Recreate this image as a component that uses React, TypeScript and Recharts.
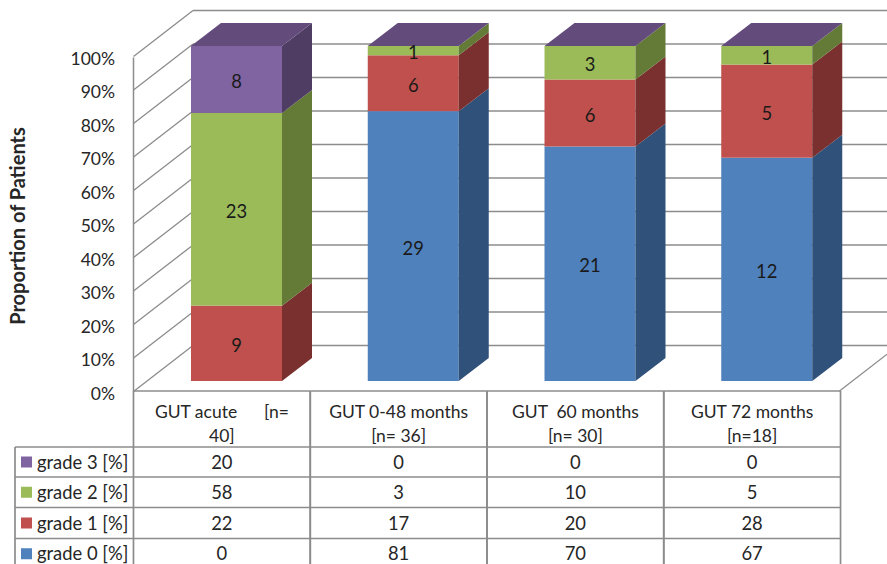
import React from 'react';
import { BarChart, Bar, XAxis, YAxis, CartesianGrid, LabelList } from 'recharts';

const categories = ['GUT acute      [n=\n40]', 'GUT 0-48 months\n[n= 36]', 'GUT  60 months\n[n= 30]', 'GUT 72 months\n[n=18]'];

// patient counts, stacked to 100%
const grade0 = [0, 29, 21, 12];
const grade1 = [9, 6, 6, 5];
const grade2 = [23, 1, 3, 1];
const grade3 = [8, 0, 0, 0];

// percentages listed under the columns
const grade0Pct = [0, 81, 70, 67];
const grade1Pct = [22, 17, 20, 28];
const grade2Pct = [58, 3, 10, 5];
const grade3Pct = [20, 0, 0, 0];

const yTicks = [0, 0.1, 0.2, 0.3, 0.4, 0.5, 0.6, 0.7, 0.8, 0.9, 1];

const data = categories.map((name, i) => ({
  name,
  grade0: grade0[i],
  grade1: grade1[i],
  grade2: grade2[i],
  grade3: grade3[i],
}));

const series = [
  { key: 'grade0', label: 'grade 0 [%]', front: '#4F81BD', side: '#30517A', top: '#3E6797' },
  { key: 'grade1', label: 'grade 1 [%]', front: '#C0504D', side: '#7A302E', top: '#99403D' },
  { key: 'grade2', label: 'grade 2 [%]', front: '#9BBB59', side: '#647A37', top: '#7C9647' },
  { key: 'grade3', label: 'grade 3 [%]', front: '#8064A2', side: '#4F3D63', top: '#634C7C' },
];

const tableRows = [
  { color: '#8064A2', label: 'grade 3 [%]', values: grade3Pct },
  { color: '#9BBB59', label: 'grade 2 [%]', values: grade2Pct },
  { color: '#C0504D', label: 'grade 1 [%]', values: grade1Pct },
  { color: '#4F81BD', label: 'grade 0 [%]', values: grade0Pct },
];

const FONT = 'Lato';
const FONT_SIZE = 18.4;
const SMALL_FONT_SIZE = 17.5;
const TEXT = '#262626';
const LINE = '#8c8c8c';

// the bars stand in the middle of the floor, the walls and table sit in front of them
const WALL_DX = -14.5;
const WALL_DY = 10.5;
const BACK_DX = 59.5;
const BACK_DY = -46;
const BAR_DX = 30;
const BAR_DY = -23;
const BAND = 176.8;

const ROW_Y = [447, 477, 507.5, 538.5, 570];

const Box3D = (fillSet: { front: string; side: string; top: string }, withTop: boolean) => (props: any) => {
  const { x, y, width: w, height: h } = props;
  return (
    <g>
      {h > 0 && <rect x={x} y={y} width={w} height={h} fill={fillSet.front} />}
      {h > 0 && (
        <polygon
          points={`${x + w},${y} ${x + w + BAR_DX},${y + BAR_DY} ${x + w + BAR_DX},${y + h + BAR_DY} ${x + w},${y + h}`}
          fill={fillSet.side}
        />
      )}
      {withTop && (
        <polygon
          points={`${x},${y} ${x + BAR_DX},${y + BAR_DY} ${x + w + BAR_DX},${y + BAR_DY} ${x + w},${y}`}
          fill={fillSet.top}
        />
      )}
    </g>
  );
};

// each gridline runs along the left wall and then across the back wall
const WallLine = (props: any) => {
  const { x1, y1, index } = props;
  const fx = x1 + WALL_DX;
  const fy = y1 + WALL_DY;
  return (
    <g key={index} stroke={LINE} fill="none">
      <line x1={fx} y1={fy} x2={fx + BACK_DX} y2={fy + BACK_DY} strokeWidth={1.3} />
      <line x1={fx + BACK_DX} y1={fy + BACK_DY} x2={920} y2={fy + BACK_DY} strokeWidth={1.5} />
    </g>
  );
};

const PercentTick = (props: any) => {
  const { y, payload } = props;
  return (
    <text x={115} y={y + WALL_DY + 8} textAnchor="end" fontFamily={FONT} fontSize={SMALL_FONT_SIZE} fill={TEXT}>
      {Math.round(payload.value * 100)}%
    </text>
  );
};

// one table column: category header, cell borders and the percentages
const ColumnTick = (props: any) => {
  const { x, payload, index } = props;
  const cx = x + WALL_DX;
  const left = cx - BAND / 2;
  const right = cx + BAND / 2;
  const lines = String(payload.value).split('\n');
  return (
    <g>
      {lines.map((t, i) => (
        <text
          key={i}
          x={cx}
          y={418 + i * 24}
          textAnchor="middle"
          fontFamily={FONT}
          fontSize={SMALL_FONT_SIZE}
          fill={TEXT}
          style={{ whiteSpace: 'pre' }}
        >
          {t}
        </text>
      ))}
      <line x1={left} y1={391} x2={left} y2={564} stroke={LINE} strokeWidth={1.7} />
      <line x1={right} y1={391} x2={right} y2={564} stroke={LINE} strokeWidth={1.7} />
      <line x1={left} y1={391} x2={right} y2={391} stroke={LINE} strokeWidth={1.7} />
      {tableRows.map((row, r) => (
        <g key={row.label}>
          <line x1={left} y1={ROW_Y[r]} x2={right} y2={ROW_Y[r]} stroke={LINE} strokeWidth={1.7} />
          <text
            x={cx}
            y={(ROW_Y[r] + Math.min(ROW_Y[r + 1], 569)) / 2 + 6.5}
            textAnchor="middle"
            fontFamily={FONT}
            fontSize={FONT_SIZE}
            fill={TEXT}
          >
            {row.values[index]}
          </text>
        </g>
      ))}
    </g>
  );
};

// series names with their colour keys, left of the table, plus the axis title and floor edge
const ChartFrame = () => (
  <g>
    <line x1={133.5} y1={57.5} x2={133.5} y2={391} stroke={LINE} strokeWidth={1.5} />
    <line x1={839.5} y1={391} x2={899} y2={345} stroke={LINE} strokeWidth={1.3} />
    <text
      transform="translate(25,226) rotate(-90)"
      textAnchor="middle"
      fontFamily={FONT}
      fontSize={20}
      fontWeight={700}
      fill={TEXT}
    >
      Proportion of Patients
    </text>
    <line x1={15} y1={447} x2={15} y2={564} stroke={LINE} strokeWidth={1.7} />
    {tableRows.map((row, r) => (
      <g key={row.label}>
        <line x1={15} y1={ROW_Y[r]} x2={133.5} y2={ROW_Y[r]} stroke={LINE} strokeWidth={1.7} />
        <rect x={21} y={(ROW_Y[r] + Math.min(ROW_Y[r + 1], 569)) / 2 - 5.5} width={11} height={11} fill={row.color} />
        <text
          x={37}
          y={(ROW_Y[r] + Math.min(ROW_Y[r + 1], 569)) / 2 + 6.5}
          fontFamily={FONT}
          fontSize={FONT_SIZE}
          fill={TEXT}
        >
          {row.label}
        </text>
      </g>
    ))}
  </g>
);

export default function App() {
  return (
    <div style={{ position: 'absolute', left: 0, top: 0, width: 887, height: 564, overflow: 'hidden', background: '#fff' }}>
      <BarChart
        width={887}
        height={564}
        data={data}
        stackOffset="expand"
        margin={{ top: 46, right: 32, bottom: 153, left: 118 }}
      >
        <CartesianGrid vertical={false} horizontal={(p: any) => <WallLine {...p} />} />
        <XAxis dataKey="name" height={30} axisLine={false} tickLine={false} interval={0} tick={(p: any) => <ColumnTick {...p} />} />
        <YAxis
          width={30}
          domain={[0, 1]}
          ticks={yTicks}
          axisLine={false}
          tickLine={false}
          tick={(p: any) => <PercentTick {...p} />}
        />
        {series.map((s) => (
          <Bar
            key={s.key}
            dataKey={s.key}
            stackId="total"
            barSize={91}
            isAnimationActive={false}
            shape={Box3D(s, s.key === 'grade3')}
          >
            <LabelList
              dataKey={s.key}
              position="center"
              formatter={(v: any) => (v ? v : '')}
              fontFamily={FONT}
              fontSize={FONT_SIZE}
              fill="#1a1a1a"
              dy={2}
            />
          </Bar>
        ))}
        <ChartFrame />
      </BarChart>
    </div>
  );
}
